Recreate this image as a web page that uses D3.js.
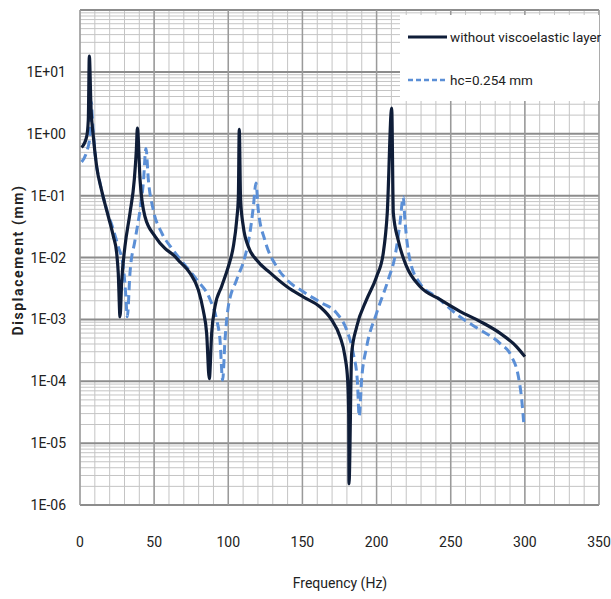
<!DOCTYPE html>
<html>
<head>
<meta charset="utf-8">
<script src="https://cdn.jsdelivr.net/npm/d3@7"></script>
<style>
  body { margin: 0; background: #fff; }
  text { font-family: "Liberation Sans Narrow", Roboto, sans-serif; fill: #222; }
</style>
</head>
<body>
<div id="chart"></div>
<script>
// ---- data (frequency Hz, displacement mm) ----
var freqBare = [1.1, 4.5, 5.6, 6.3, 7.4, 9.0, 11.2, 14.6, 19.1, 22.5, 24.7, 25.8, 27.0,
  28.1, 30.3, 33.7, 36.6, 38.0, 38.7, 40.5, 43.8, 50.6, 57.3, 62.9, 67.4, 74.2, 79.8, 83.1, 85.4, 87.2,
  88.8, 91.0, 95.5, 100.0, 103.4, 105.7, 106.8, 107.4, 108.3, 110.1, 113.5, 119.1, 128.1, 139.4,
  150.6, 161.8, 169.7, 175.3, 178.7, 180.5, 181.2, 181.4, 183.2, 186.6, 193.3, 200.0, 204.5,
  207.2, 210.2, 211.3, 214.6, 220.3, 229.3, 242.7, 256.2, 269.7, 283.2, 294.5, 300.0];
var dispBare = [0.6, 0.9, 1.67, 18, 2.7, 0.9, 0.3, 0.12, 0.046, 0.022, 0.012, 0.0056, 0.0011,
  0.004, 0.015, 0.052, 0.18, 0.55, 1.23, 0.18, 0.046, 0.022, 0.014, 0.011, 0.0085, 0.0056, 0.003, 0.0014, 0.0006, 0.00011,
  0.0006, 0.0016, 0.0034, 0.0071, 0.015, 0.041, 0.096, 1.18, 0.085, 0.032, 0.015, 0.0091, 0.0057, 0.0034,
  0.0023, 0.0016, 0.00098, 0.00053, 0.00025, 0.000105, 0.00003, 0.0000022, 0.00028, 0.00076, 0.0021, 0.0049, 0.0117,
  0.052, 2.6, 0.052, 0.019, 0.0071, 0.0034, 0.0021, 0.00135, 0.00093, 0.0006, 0.00036, 0.00025];

var freqLayer = [1.1, 4.5, 6.7, 7.4, 9.0, 10.6, 13.5, 18.0, 22.5, 25.8, 29.2, 30.8, 31.9,
  33.7, 37.1, 40.5, 42.7, 44.5, 46.1, 49.4, 55.1, 62.0, 69.7, 78.7, 87.7, 92.2, 94.4, 96.2,
  97.8, 100.0, 105.7, 111.3, 114.6, 116.9, 118.7, 120.2, 124.7, 132.6, 139.4, 150.6, 161.8, 173.1,
  179.8, 184.3, 187.0, 188.3, 189.9, 193.3, 200.0, 207.9, 212.4, 215.8, 218.0, 219.1, 222.5, 229.3,
  240.5, 256.2, 269.7, 283.2, 291.1, 295.6, 297.9, 299.4];
var dispLayer = [0.35, 0.51, 0.9, 3.3, 1.0, 0.38, 0.16, 0.059, 0.028, 0.015, 0.0071, 0.0026, 0.0011,
  0.0056, 0.019, 0.059, 0.16, 0.58, 0.18, 0.059, 0.025, 0.014, 0.0081, 0.0044, 0.0021, 0.00098, 0.00047, 0.000105,
  0.00047, 0.0016, 0.0044, 0.0104, 0.025, 0.066, 0.16, 0.059, 0.019, 0.0071, 0.0044, 0.0028, 0.0019, 0.00126,
  0.00068, 0.00028, 0.000105, 0.000027, 0.000105, 0.00036, 0.00126, 0.0044, 0.0104, 0.036, 0.096, 0.041, 0.0091, 0.0038,
  0.0023, 0.0011, 0.00068, 0.00041, 0.00025, 0.00012, 0.00005, 0.000019];

var seriesNames = ["without viscoelastic layer", "hc=0.254 mm"];
var xTicks = [0, 50, 100, 150, 200, 250, 300, 350];
var yTicks = [1e-6, 1e-5, 1e-4, 1e-3, 1e-2, 1e-1, 1, 10];
var yTickLabels = ["1E-06", "1E-05", "1E-04", "1E-03", "1E-02", "1E-01", "1E+00", "1E+01"];

var width = 611, height = 599;
var plotLeft = 80, plotRight = 599, plotTop = 10, plotBottom = 505;

var svg = d3.select("#chart").append("svg")
            .attr("width", width)
            .attr("height", height);

var x = d3.scaleLinear().domain([0, 350]).range([plotLeft, plotRight]);
var y = d3.scaleLog().domain([1e-6, 100]).range([plotBottom, plotTop]);

// ---- grid ----
var grid = svg.append("g");

// minor horizontal lines (2..9 in every decade)
var minorY = [];
for (var e = -6; e < 2; e++) {
  for (var m = 2; m <= 9; m++) minorY.push(m * Math.pow(10, e));
}
grid.selectAll(".hmin").data(minorY).enter().append("line")
    .attr("x1", plotLeft).attr("x2", plotRight)
    .attr("y1", function(d) { return y(d); })
    .attr("y2", function(d) { return y(d); })
    .style("stroke", "#c4c4c4").style("stroke-width", 1);

// minor vertical lines every 10 Hz
grid.selectAll(".vmin").data(d3.range(0, 351, 10)).enter().append("line")
    .attr("y1", plotTop).attr("y2", plotBottom)
    .attr("x1", function(d) { return x(d); })
    .attr("x2", function(d) { return x(d); })
    .style("stroke", "#c4c4c4").style("stroke-width", 1);

// major lines
grid.selectAll(".hmaj").data(yTicks.concat([100])).enter().append("line")
    .attr("x1", plotLeft).attr("x2", plotRight)
    .attr("y1", function(d) { return y(d); })
    .attr("y2", function(d) { return y(d); })
    .style("stroke", "#8c8c8c").style("stroke-width", 2);

grid.selectAll(".vmaj").data(xTicks).enter().append("line")
    .attr("y1", plotTop).attr("y2", plotBottom)
    .attr("x1", function(d) { return x(d); })
    .attr("x2", function(d) { return x(d); })
    .style("stroke", "#9a9a9a").style("stroke-width", 1.5);

// ---- tick labels ----
svg.selectAll(".ylab").data(yTicks).enter().append("text")
   .attr("x", 66)
   .attr("y", function(d) { return y(d) + 5; })
   .attr("text-anchor", "end")
   .style("font-size", "14px")
   .text(function(d, i) { return yTickLabels[i]; });

svg.selectAll(".xlab").data(xTicks).enter().append("text")
   .attr("x", function(d) { return x(d); })
   .attr("y", 547)
   .attr("text-anchor", "middle")
   .style("font-size", "14px")
   .text(function(d) { return d; });

// axis titles
svg.append("text")
   .attr("transform", "translate(23," + 260 + ") rotate(-90)")
   .attr("text-anchor", "middle")
   .style("font-size", "14px")
   .style("font-weight", "bold")
   .style("letter-spacing", "1.6px")
   .text("Displacement  (mm)");

svg.append("text")
   .attr("x", 340)
   .attr("y", 588)
   .attr("text-anchor", "middle")
   .style("font-size", "14px")
   .text("Frequency (Hz)");

// ---- curves ----
var line = d3.line()
             .x(function(d) { return x(d[0]); })
             .y(function(d) { return y(d[1]); })
             .curve(d3.curveMonotoneX);

var bare = d3.zip(freqBare, dispBare);
var layer = d3.zip(freqLayer, dispLayer);

svg.append("path")
   .attr("d", line(layer))
   .attr("fill", "none")
   .attr("stroke", "#5b8fd6")
   .attr("stroke-width", 3)
   .attr("stroke-dasharray", "9,5");

svg.append("path")
   .attr("d", line(bare))
   .attr("fill", "none")
   .attr("stroke", "#0f1d38")
   .attr("stroke-width", 3.2)
   .attr("stroke-linejoin", "round");

// ---- legend ----
var legend = svg.append("g");
legend.append("rect")
      .attr("x", 400).attr("y", 15)
      .attr("width", plotRight - 400).attr("height", 86)
      .style("fill", "#fff");

var legendStyle = [{color: "#0f1d38", dash: null, w: 3.2}, {color: "#5b8fd6", dash: "5,3", w: 2.5}];
legend.selectAll(".li").data(seriesNames).enter().append("line")
      .attr("x1", 408).attr("x2", 447)
      .attr("y1", function(d, i) { return 37 + i * 43; })
      .attr("y2", function(d, i) { return 37 + i * 43; })
      .attr("stroke", function(d, i) { return legendStyle[i].color; })
      .attr("stroke-width", function(d, i) { return legendStyle[i].w; })
      .attr("stroke-dasharray", function(d, i) { return legendStyle[i].dash; });

legend.selectAll(".lt").data(seriesNames).enter().append("text")
      .attr("x", 450)
      .attr("y", function(d, i) { return 42 + i * 43; })
      .style("font-size", "13.5px")
      .text(function(d) { return d; });
</script>
</body>
</html>
